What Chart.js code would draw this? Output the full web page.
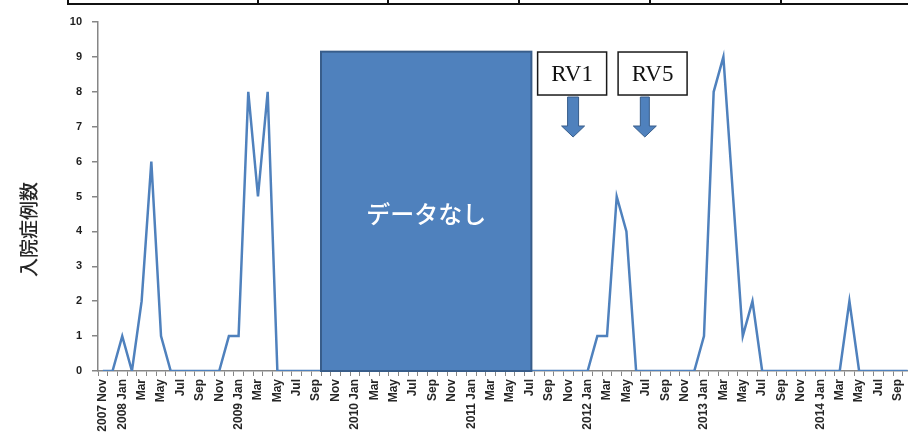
<!DOCTYPE html>
<html>
<head>
<meta charset="utf-8">
<script src="https://cdn.jsdelivr.net/npm/chart.js@4/dist/chart.umd.min.js"></script>
<style>
  html, body { margin: 0; padding: 0; background: #fff; overflow: hidden; }
  #wrap { width: 908px; height: 439px; overflow: hidden; position: relative; }
  canvas { display: block; }
</style>
</head>
<body>
<div id="wrap"><canvas id="chart" width="925" height="439"></canvas></div>
<script>
// Monthly categories, Nov 2007 – Oct 2014
const months = [
  '2007 Nov', 'Dec',
  '2008 Jan', 'Feb', 'Mar', 'Apr', 'May', 'Jun', 'Jul', 'Aug', 'Sep', 'Oct', 'Nov', 'Dec',
  '2009 Jan', 'Feb', 'Mar', 'Apr', 'May', 'Jun', 'Jul', 'Aug', 'Sep', 'Oct', 'Nov', 'Dec',
  '2010 Jan', 'Feb', 'Mar', 'Apr', 'May', 'Jun', 'Jul', 'Aug', 'Sep', 'Oct', 'Nov', 'Dec',
  '2011 Jan', 'Feb', 'Mar', 'Apr', 'May', 'Jun', 'Jul', 'Aug', 'Sep', 'Oct', 'Nov', 'Dec',
  '2012 Jan', 'Feb', 'Mar', 'Apr', 'May', 'Jun', 'Jul', 'Aug', 'Sep', 'Oct', 'Nov', 'Dec',
  '2013 Jan', 'Feb', 'Mar', 'Apr', 'May', 'Jun', 'Jul', 'Aug', 'Sep', 'Oct', 'Nov', 'Dec',
  '2014 Jan', 'Feb', 'Mar', 'Apr', 'May', 'Jun', 'Jul', 'Aug', 'Sep', 'Oct'
];

// Hospital admissions per month (null = no data, Oct 2009 – Jul 2011)
const admissions = [
  0, 0,
  1, 0, 2, 6, 1, 0, 0, 0, 0, 0, 0, 1,
  1, 8, 5, 8, 0, 0, 0, 0, 0, null, null, null,
  null, null, null, null, null, null, null, null, null, null, null, null,
  null, null, null, null, null, null, null, 0, 0, 0, 0, 0,
  0, 1, 1, 5, 4, 0, 0, 0, 0, 0, 0, 0,
  1, 8, 9, 5, 1, 2, 0, 0, 0, 0, 0, 0,
  0, 0, 0, 2, 0, 0, 0, 0, 0, 0
];

const yTicks = [0, 1, 2, 3, 4, 5, 6, 7, 8, 9, 10];
const yTitle = '入院症例数';

// Shaded "no data" period and vaccine introduction markers (in axis units)
const noDataBlock = { from: 22.5, to: 44.2, top: 9.15, text: 'データなし' };
const vaccineMarks = [
  { label: 'RV1', boxAt: 48.4, arrowAt: 48.5, shaft: 11 },
  { label: 'RV5', boxAt: 56.7, arrowAt: 55.9, shaft: 9 }
];

const BLUE = '#4f81bd';
const BLUE_DARK = '#385d8a';
const AXIS_GRAY = '#868686';

const overlay = {
  id: 'overlay',
  afterDatasetsDraw(chart) {
    const { ctx } = chart;
    const xs = chart.scales.x, ys = chart.scales.y;

    // no-data block
    const x1 = xs.getPixelForValue(noDataBlock.from);
    const x2 = xs.getPixelForValue(noDataBlock.to);
    const y1 = ys.getPixelForValue(noDataBlock.top);
    const y2 = ys.getPixelForValue(0);
    ctx.save();
    ctx.fillStyle = BLUE;
    ctx.fillRect(x1, y1, x2 - x1, y2 - y1);
    ctx.strokeStyle = BLUE_DARK;
    ctx.lineWidth = 2;
    ctx.strokeRect(x1, y1, x2 - x1, y2 - y1);
    ctx.fillStyle = '#fff';
    ctx.font = '500 24px "Noto Sans CJK JP"';
    ctx.textAlign = 'center';
    ctx.textBaseline = 'middle';
    ctx.fillText(noDataBlock.text, (x1 + x2) / 2, ys.getPixelForValue(4.5));

    // vaccine label boxes with arrows
    const boxTop = ys.getPixelForValue(9.14);
    const boxH = 43, boxW = 69;
    vaccineMarks.forEach(m => {
      const bx = xs.getPixelForValue(m.boxAt);
      ctx.fillStyle = '#fff';
      ctx.fillRect(bx - boxW / 2, boxTop, boxW, boxH);
      ctx.strokeStyle = '#1a1a1a';
      ctx.lineWidth = 1.5;
      ctx.strokeRect(bx - boxW / 2, boxTop, boxW, boxH);
      ctx.fillStyle = '#111';
      ctx.font = '23px "Liberation Serif"';
      ctx.textAlign = 'center';
      ctx.textBaseline = 'middle';
      ctx.fillText(m.label, bx, boxTop + boxH / 2 + 1);

      const ax = xs.getPixelForValue(m.arrowAt);
      const sTop = boxTop + boxH + 2, sBot = sTop + 29, tip = sBot + 11;
      const hw = m.shaft / 2, hh = 11.5;
      ctx.beginPath();
      ctx.moveTo(ax - hw, sTop);
      ctx.lineTo(ax + hw, sTop);
      ctx.lineTo(ax + hw, sBot);
      ctx.lineTo(ax + hh, sBot);
      ctx.lineTo(ax, tip);
      ctx.lineTo(ax - hh, sBot);
      ctx.lineTo(ax - hw, sBot);
      ctx.closePath();
      ctx.fillStyle = BLUE;
      ctx.fill();
      ctx.strokeStyle = BLUE_DARK;
      ctx.lineWidth = 1;
      ctx.stroke();
    });
    ctx.restore();
  },
  afterDraw(chart) {
    const { ctx } = chart;
    const ys = chart.scales.y;
    ctx.save();
    // rotated y-axis title
    ctx.translate(29, (ys.top + ys.bottom) / 2 + 33);
    ctx.rotate(-Math.PI / 2);
    ctx.fillStyle = '#262626';
    ctx.font = '500 19px "Noto Sans CJK JP"';
    ctx.textAlign = 'center';
    ctx.textBaseline = 'middle';
    ctx.fillText(yTitle, 0, 0);
    ctx.restore();

    // rule of the table border above the chart
    ctx.save();
    ctx.strokeStyle = '#111';
    ctx.lineWidth = 2;
    ctx.beginPath();
    ctx.moveTo(68, 4);
    ctx.lineTo(chart.width, 4);
    [68, 258, 388, 519, 650, 781].forEach(x => {
      ctx.moveTo(x, 0);
      ctx.lineTo(x, 5);
    });
    ctx.stroke();
    ctx.restore();
  }
};

new Chart(document.getElementById('chart'), {
  type: 'line',
  data: {
    labels: months,
    datasets: [{
      data: admissions,
      borderColor: BLUE,
      borderWidth: 2.5,
      pointRadius: 0,
      tension: 0,
      spanGaps: true
    }]
  },
  options: {
    responsive: false,
    animation: false,
    layout: { padding: { top: 22, left: 0, right: 1, bottom: 0 } },
    plugins: { legend: { display: false }, tooltip: { enabled: false } },
    scales: {
      x: {
        type: 'category',
        offset: true,
        grid: { offset: true, drawOnChartArea: false, drawTicks: true, tickLength: 5, color: AXIS_GRAY, lineWidth: 1 },
        border: { color: AXIS_GRAY, width: 1.5 },
        afterFit: s => { s.height = 68; },
        ticks: {
          autoSkip: false,
          minRotation: 90,
          maxRotation: 90,
          padding: 3,
          color: '#262626',
          font: { family: 'Liberation Sans', size: 12, weight: 'bold' },
          callback: (v, i) => (i % 2 === 0 ? months[i] : '')
        }
      },
      y: {
        min: 0,
        max: 10,
        afterFit: s => { s.width = 98; },
        afterBuildTicks: s => { s.ticks = yTicks.map(v => ({ value: v })); },
        grid: { drawOnChartArea: false, drawTicks: true, tickLength: 6, color: AXIS_GRAY, lineWidth: 1.5 },
        border: { color: AXIS_GRAY, width: 1.5 },
        ticks: {
          padding: 10,
          color: '#1f1f1f',
          font: { family: 'Liberation Sans', size: 11, weight: 'bold' }
        }
      }
    }
  },
  plugins: [overlay]
});
</script>
</body>
</html>
